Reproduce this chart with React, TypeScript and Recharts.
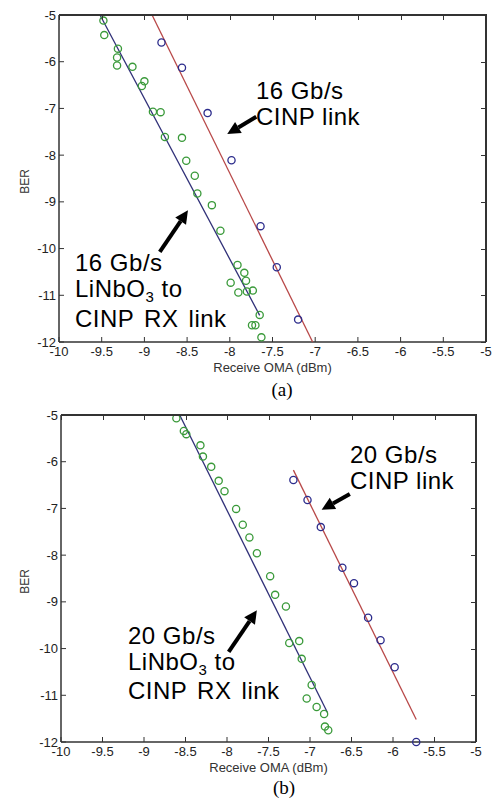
import React from 'react';
import { ScatterChart, Scatter, XAxis, YAxis, ReferenceLine } from 'recharts';

const xTicks = [-10, -9.5, -9, -8.5, -8, -7.5, -7, -6.5, -6, -5.5, -5];
const yTicks = [-5, -6, -7, -8, -9, -10, -11, -12];

// (a) 16 Gb/s — LiNbO3 to CINP RX (green) and CINP link (blue)
const aLinbo = [
  [-9.48, -5.12], [-9.47, -5.43], [-9.31, -5.72], [-9.32, -5.91], [-9.32, -6.08],
  [-9.14, -6.11], [-9.0, -6.42], [-9.03, -6.52], [-8.9, -7.07], [-8.81, -7.08],
  [-8.76, -7.61], [-8.56, -7.63], [-8.51, -8.12], [-8.41, -8.44], [-8.38, -8.82],
  [-8.21, -9.07], [-8.11, -9.62], [-7.91, -10.35], [-7.83, -10.52], [-7.81, -10.69],
  [-7.99, -10.73], [-7.9, -10.94], [-7.8, -10.92], [-7.73, -10.9], [-7.65, -11.42],
  [-7.74, -11.64], [-7.7, -11.64], [-7.63, -11.9],
];
const aLinboFit = [[-9.52, -5], [-7.65, -11.43]];
const aCinp = [
  [-8.8, -5.59], [-8.56, -6.13], [-8.26, -7.1], [-7.98, -8.11],
  [-7.64, -9.52], [-7.45, -10.4], [-7.2, -11.52],
];
const aCinpFit = [[-8.91, -5], [-7.03, -12]];

// (b) 20 Gb/s
const bLinbo = [
  [-8.61, -5.07], [-8.52, -5.34], [-8.49, -5.41], [-8.32, -5.65], [-8.29, -5.89],
  [-8.19, -6.11], [-8.1, -6.41], [-8.03, -6.63], [-7.89, -7.01], [-7.81, -7.35],
  [-7.73, -7.62], [-7.64, -7.96], [-7.48, -8.45], [-7.42, -8.85], [-7.29, -9.1],
  [-7.25, -9.88], [-7.13, -9.84], [-7.1, -10.22], [-6.98, -10.78], [-7.04, -11.07],
  [-6.92, -11.25], [-6.83, -11.4], [-6.82, -11.67], [-6.78, -11.75],
];
const bLinboFit = [[-8.57, -5], [-6.79, -11.37]];
const bCinp = [
  [-7.2, -6.39], [-7.03, -6.82], [-6.87, -7.4], [-6.61, -8.27], [-6.47, -8.6],
  [-6.3, -9.34], [-6.15, -9.82], [-5.98, -10.4], [-5.72, -12.0],
];
const bCinpFit = [[-7.2, -6.18], [-5.72, -11.52]];

// annotation arrows (tail -> tip), in data units
const aArrows = [[[-7.69, -7.18], [-8.03, -7.55]], [[-8.82, -10.07], [-8.49, -9.18]]];
const bArrows = [[[-6.52, -6.69], [-6.86, -7.03]], [[-7.98, -10.07], [-7.64, -9.18]]];

const GREEN = '#3a9a3a';
const BLUE = '#2c2c8c';
const AXIS = '#333';
const FONT = '"Liberation Sans", Arial, sans-serif';

const toPts = (arr: number[][]) => arr.map(([x, y]) => ({ x, y }));

const ring = (color: string) => (p: any) => (
  <circle cx={p.cx} cy={p.cy} r={3.6} fill="none" stroke={color} strokeWidth={1.3} />
);
const noDot = () => <g />;

const Arrow = (p: any) => {
  const { x1, y1, x2, y2 } = p;
  const dx = x2 - x1;
  const dy = y2 - y1;
  const len = Math.hypot(dx, dy) || 1;
  const ux = dx / len;
  const uy = dy / len;
  const hl = 13;
  const hw = 6.5;
  const bx = x2 - ux * hl;
  const by = y2 - uy * hl;
  return (
    <g>
      <line x1={x1} y1={y1} x2={bx} y2={by} stroke="#000" strokeWidth={4} />
      <polygon
        points={`${x2},${y2} ${bx - uy * hw},${by + ux * hw} ${bx + uy * hw},${by - ux * hw}`}
        fill="#000"
      />
    </g>
  );
};

const berLabel = (props: any) => {
  const { x, y, height } = props.viewBox;
  const cx = x + 25;
  const cy = y + height / 2 + 3;
  return (
    <text
      x={cx}
      y={cy}
      transform={`rotate(-90 ${cx} ${cy})`}
      textAnchor="middle"
      dominantBaseline="central"
      fontSize={12}
      fontFamily={FONT}
      fill="#333"
    >
      BER
    </text>
  );
};

// top and right edges of the MATLAB style box, with inward ticks
function Frame({ left, top, right, bottom }: any) {
  const w = right - left;
  const h = bottom - top;
  const x0 = xTicks[0];
  const xSpan = xTicks[xTicks.length - 1] - x0;
  const y0 = yTicks[0];
  const ySpan = y0 - yTicks[yTicks.length - 1];
  return (
    <>
      <div style={{ position: 'absolute', left, top: top - 1, width: w + 1, height: 2, background: AXIS }} />
      <div style={{ position: 'absolute', left: right - 1, top: top - 1, width: 2, height: h + 1, background: AXIS }} />
      {xTicks.map((t) => (
        <div key={`tx${t}`} style={{ position: 'absolute', left: left + ((t - x0) / xSpan) * w, top, width: 1, height: 5, background: AXIS }} />
      ))}
      {yTicks.map((t) => (
        <div key={`ty${t}`} style={{ position: 'absolute', left: right - 5, top: top + ((y0 - t) / ySpan) * h, width: 5, height: 1, background: AXIS }} />
      ))}
    </>
  );
}

function Panel({ linbo, linboFit, cinp, cinpFit, arrows, yWidth, right }: any) {
  const tick = { fill: '#222', fontSize: 13, fontFamily: FONT };
  const axisLine = { stroke: AXIS, strokeWidth: 1.5 };
  return (
    <ScatterChart width={495} height={400} margin={{ top: 15, right, bottom: 0, left: 0 }}>
      <XAxis
        type="number"
        dataKey="x"
        domain={[-10, -5]}
        ticks={xTicks}
        interval={0}
        height={58}
        tickSize={-5}
        tickMargin={10}
        tick={tick}
        axisLine={axisLine}
        tickLine={{ stroke: AXIS }}
        label={{ value: 'Receive OMA (dBm)', position: 'insideBottom', offset: 28, fontSize: 13, fontFamily: FONT, fill: '#333' }}
      />
      <YAxis
        type="number"
        dataKey="y"
        domain={[-12, -5]}
        ticks={yTicks}
        interval={0}
        width={yWidth}
        tickSize={-5}
        tickMargin={8}
        tick={tick}
        axisLine={axisLine}
        tickLine={{ stroke: AXIS }}
        label={berLabel}
      />
      <Scatter data={toPts(linboFit)} line={{ stroke: '#303078', strokeWidth: 1.3 }} shape={noDot} isAnimationActive={false} />
      <Scatter data={toPts(cinpFit)} line={{ stroke: '#b84848', strokeWidth: 1.3 }} shape={noDot} isAnimationActive={false} />
      <Scatter data={toPts(linbo)} shape={ring(GREEN)} isAnimationActive={false} />
      <Scatter data={toPts(cinp)} shape={ring(BLUE)} isAnimationActive={false} />
      {arrows.map((seg: number[][], i: number) => (
        <ReferenceLine
          key={i}
          segment={[{ x: seg[0][0], y: seg[0][1] }, { x: seg[1][0], y: seg[1][1] }]}
          shape={Arrow}
        />
      ))}
    </ScatterChart>
  );
}

const Note = ({ left, base, children, ws = 0 }: any) => (
  <div
    style={{
      position: 'absolute',
      left,
      top: base - 20.3,
      fontSize: 24,
      lineHeight: '24px',
      fontFamily: FONT,
      whiteSpace: 'nowrap',
      letterSpacing: 0.5,
      wordSpacing: ws,
      color: '#000',
    }}
  >
    {children}
  </div>
);

const Sub3 = () => (
  <span style={{ fontSize: 15, position: 'relative', top: 5 }}>3</span>
);

const Caption = ({ cx, top, children }: any) => (
  <div
    style={{
      position: 'absolute',
      left: cx,
      top,
      transform: 'translateX(-50%)',
      fontFamily: '"Liberation Serif", "Times New Roman", serif',
      fontSize: 19,
      lineHeight: '19px',
    }}
  >
    {children}
  </div>
);

export default function App() {
  return (
    <div style={{ position: 'absolute', left: 0, top: 0, width: 495, height: 800, background: '#fff' }}>
      <div style={{ position: 'absolute', left: 0, top: 0 }}>
        <Panel linbo={aLinbo} linboFit={aLinboFit} cinp={aCinp} cinpFit={aCinpFit} arrows={aArrows} yWidth={59} right={9} />
      </div>
      <div style={{ position: 'absolute', left: 0, top: 400 }}>
        <Panel linbo={bLinbo} linboFit={bLinboFit} cinp={bCinp} cinpFit={bCinpFit} arrows={bArrows} yWidth={61} right={19} />
      </div>
      <Frame left={59} top={15} right={486} bottom={342} />
      <Frame left={61} top={415} right={476} bottom={742} />

      <Note left={256} base={99}>16 Gb/s</Note>
      <Note left={256} base={125}>CINP link</Note>
      <Note left={75} base={271}>16 Gb/s</Note>
      <Note left={75} base={297.5}>LiNbO<Sub3 /> to</Note>
      <Note left={75} base={327} ws={3}>CINP RX link</Note>
      <Caption cx={282} top={380}>(a)</Caption>

      <Note left={350} base={463}>20 Gb/s</Note>
      <Note left={350} base={489}>CINP link</Note>
      <Note left={128} base={644}>20 Gb/s</Note>
      <Note left={128} base={670.5}>LiNbO<Sub3 /> to</Note>
      <Note left={128} base={699} ws={3}>CINP RX link</Note>
      <Caption cx={284} top={778}>(b)</Caption>
    </div>
  );
}
